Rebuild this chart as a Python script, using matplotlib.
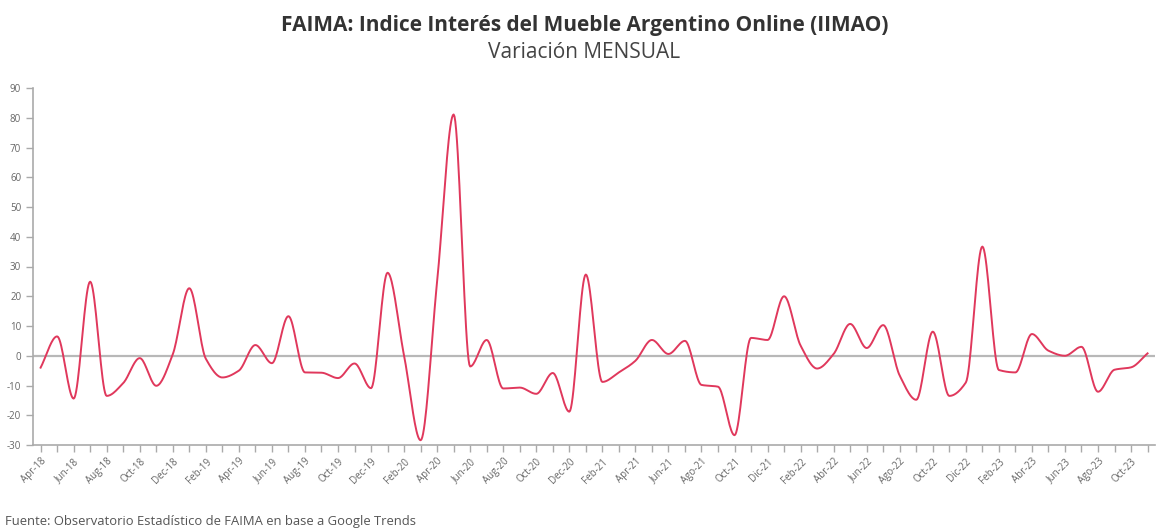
import numpy as np
import matplotlib
matplotlib.use("Agg")
import matplotlib.pyplot as plt

months = ["Apr-18","May-18","Jun-18","Jul-18","Aug-18","Sep-18","Oct-18","Nov-18","Dec-18",
          "Jan-19","Feb-19","Mar-19","Apr-19","May-19","Jun-19","Jul-19","Aug-19","Sep-19","Oct-19","Nov-19","Dec-19",
          "Jan-20","Feb-20","Mar-20","Apr-20","May-20","Jun-20","Jul-20","Aug-20","Sep-20","Oct-20","Nov-20","Dec-20",
          "Jan-21","Feb-21","Mar-21","Apr-21","May-21","Jun-21","Jul-21","Ago-21","Sep-21","Oct-21","Nov-21","Dic-21",
          "Jan-22","Feb-22","Mar-22","Abr-22","May-22","Jun-22","Jul-22","Ago-22","Sep-22","Oct-22","Nov-22","Dic-22",
          "Jan-23","Feb-23","Mar-23","Abr-23","May-23","Jun-23","Jul-23","Ago-23","Sep-23","Oct-23","Nov-23"]

values = [-4.0, 6.5, -14.4, 24.9, -13.5, -9.2, -0.8, -10.1, 0.5,
          22.7, -1.0, -7.3, -5.0, 3.6, -2.5, 13.3, -5.6, -5.7, -7.5, -2.6, -10.9,
          27.9, 0.0, -28.4, 25.0, 81.1, -3.6, 5.3, -11.0, -10.7, -12.8, -5.8, -18.8,
          27.3, -8.8, -5.6, -1.7, 5.3, 0.6, 5.0, -9.8, -10.4, -26.7, 6.0, 5.3,
          20.0, 3.4, -4.3, 0.6, 10.7, 2.6, 10.3, -6.7, -14.8, 8.1, -13.5, -9.0,
          36.7, -4.8, -5.6, 7.3, 1.7, 0.0, 3.0, -12.1, -4.7, -3.9, 0.8]

y_ticks = [-30, -20, -10, 0, 10, 20, 30, 40, 50, 60, 70, 80, 90]

title = "FAIMA: Indice Interés del Mueble Argentino Online (IIMAO)"
subtitle = "Variación MENSUAL"
source = "Fuente: Observatorio Estadístico de FAIMA en base a Google Trends"


def monotone_curve(x, y, n=20):
    x = np.asarray(x, float); y = np.asarray(y, float)
    h = np.diff(x); d = np.diff(y) / h
    m = np.zeros_like(y)
    m[0] = d[0]; m[-1] = d[-1]
    for k in range(1, len(y) - 1):
        if d[k - 1] * d[k] <= 0:
            m[k] = 0.0
        else:
            w1 = 2 * h[k] + h[k - 1]; w2 = h[k] + 2 * h[k - 1]
            m[k] = (w1 + w2) / (w1 / d[k - 1] + w2 / d[k])
    xs, ys = [], []
    for k in range(len(x) - 1):
        t = np.linspace(0, 1, n, endpoint=False)
        h00 = 2*t**3 - 3*t**2 + 1; h10 = t**3 - 2*t**2 + t
        h01 = -2*t**3 + 3*t**2; h11 = t**3 - t**2
        xs.append(x[k] + t * h[k])
        ys.append(h00*y[k] + h10*h[k]*m[k] + h01*y[k+1] + h11*h[k]*m[k+1])
    xs.append([x[-1]]); ys.append([y[-1]])
    return np.concatenate(xs), np.concatenate(ys)


plt.rcParams['font.family'] = ['Open Sans', 'DejaVu Sans']

fig = plt.figure(figsize=(11.57, 5.31), dpi=100)
ax = fig.add_axes([33/1157, 1 - 445/531, 1 - 33/1157 - 2/1157, (445 - 88)/531])

x = np.arange(len(values))
cx, cy = monotone_curve(x, values)
ax.axhline(0, color='#b8b8b8', lw=1.6, zorder=1)
ax.plot(cx, cy, color='#e0385c', lw=1.4, zorder=2)

ax.set_xlim(-0.46, len(values) - 0.55)
ax.set_ylim(-30, 90)
ax.set_yticks(y_ticks)
ax.set_yticklabels([str(v) for v in y_ticks], fontsize=7, color='#666666')
ax.set_xticks(x)
ax.set_xticklabels([m if i % 2 == 0 else "" for i, m in enumerate(months)],
                   rotation=45, ha='right', rotation_mode='anchor', fontsize=7, color='#666666')

for s in ['top', 'right']:
    ax.spines[s].set_visible(False)
for s in ['left', 'bottom']:
    ax.spines[s].set_color('#aaaaaa')
    ax.spines[s].set_linewidth(1.2)
ax.tick_params(axis='both', colors='#aaaaaa', length=5, width=1, labelcolor='#666666')
ax.tick_params(axis='x', pad=3)

fig.text(0.505, 1 - 26/531, title, ha='center', va='center', fontsize=15, fontweight='bold', color='#333333')
fig.text(0.505, 1 - 53/531, subtitle, ha='center', va='center', fontsize=15, color='#444444')
fig.text(5/1157, 1 - 521/531, source, ha='left', va='center', fontsize=9.4, color='#555555')

fig.savefig('out.png', dpi=100)
